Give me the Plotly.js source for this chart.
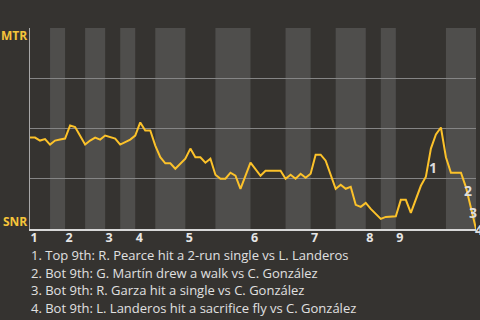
<!DOCTYPE html>
<html>
<head>
<meta charset="utf-8">
<script src="https://cdn.plot.ly/plotly-3.0.1.min.js"></script>
<style>html,body{margin:0;padding:0;background:#353330;}#chart{width:480px;height:320px;}</style>
</head>
<body>
<div id="chart"></div>
<script>
// Event index (plate appearance) along the game and win probability (1 = MTR, 0 = SNR)
const events = [0,1,2,3,4,5,6,7,8,9,11,12,13,14,15,17,18,20,21,22,23,24,25,26,27,28,29,31,32,33,34,35,36,37,38,39,40,41,42,44,46,47,50,51,52,53,54,55,56,57,58,59,61,62,63,64,65,66,67,68,70,71,73,74,75,76,78,79,80,81,82,83,84,86,87,88,89];
const winProb = [0.455,0.455,0.44,0.447,0.42,0.44,0.445,0.45,0.515,0.507,0.42,0.44,0.455,0.445,0.465,0.45,0.42,0.445,0.465,0.53,0.49,0.49,0.415,0.357,0.327,0.327,0.30,0.35,0.40,0.357,0.357,0.33,0.35,0.27,0.25,0.25,0.28,0.265,0.20,0.33,0.265,0.29,0.29,0.25,0.27,0.25,0.275,0.255,0.275,0.37,0.37,0.34,0.20,0.22,0.20,0.21,0.12,0.11,0.13,0.10,0.05,0.06,0.063,0.145,0.145,0.08,0.215,0.26,0.40,0.47,0.505,0.357,0.28,0.28,0.207,0.107,0.0];
// Half-inning start events (top 1st, bot 1st, top 2nd, ...), and last event
const halfInningStarts = [0,4,7,11,15,18,21,25,31,37,44,51,56,61,67,70,73,83];
const lastEvent = 89;
const inningLabels = ['1','2','3','4','5','6','7','8','9'];
const teamTop = 'MTR';
const teamBottom = 'SNR';
// Key events
const keyLabels = ['1','2','3','4'];
const keyX = [80.5,87.5,88.5,89];
const keyY = [0.305,0.19,0.082,0.0];
const notes = [
  '1. Top 9th: R. Pearce hit a 2-run single vs L. Landeros',
  '2. Bot 9th: G. Martín drew a walk vs C. González',
  '3. Bot 9th: R. Garza hit a single vs C. González',
  '4. Bot 9th: L. Landeros hit a sacrifice fly vs C. González'
];

const FONT = '"Open Sans", "Noto Sans", sans-serif';
const shapes = [];
for (let i = 1; i < halfInningStarts.length; i += 2) {
  const end = (i + 1 < halfInningStarts.length) ? halfInningStarts[i + 1] : lastEvent;
  shapes.push({type:'rect', xref:'x', yref:'paper', x0:halfInningStarts[i], x1:end, y0:0, y1:1,
    fillcolor:'#4f4e4c', line:{width:0}, layer:'below'});
}
const tickvals = halfInningStarts.filter((_, i) => i % 2 === 0);

const annotations = [];
annotations.push({xref:'paper', yref:'paper', x:0, y:1, xanchor:'right', yanchor:'middle', xshift:-1, yshift:-7,
  text:teamTop, showarrow:false, font:{family:FONT, size:12, color:'#f5c43a', weight:'bold'}});
annotations.push({xref:'paper', yref:'paper', x:0, y:0, xanchor:'right', yanchor:'middle', xshift:-1, yshift:8,
  text:teamBottom, showarrow:false, font:{family:FONT, size:12, color:'#f5c43a', weight:'bold'}});
keyLabels.forEach((t, i) => {
  annotations.push({xref:'x', yref:'y', x:keyX[i], y:keyY[i], xanchor:'center', yanchor:'middle',
    xshift: i === 3 ? 3 : 0, text:t, showarrow:false, font:{family:FONT, size:14, color:'#dddddd', weight:'bold'}});
});
notes.forEach((t, i) => {
  annotations.push({xref:'paper', yref:'paper', x:0, y:0, xanchor:'left', yanchor:'middle',
    xshift:0, yshift:-(26 + i * 17.5), borderpad:0, text:t, showarrow:false, font:{family:FONT, size:13, color:'#e0e0e0'}});
});

const trace = {x:events, y:winProb, type:'scatter', mode:'lines',
  line:{color:'#fcc22a', width:2}, hoverinfo:'skip', cliponaxis:false};

const layout = {
  width:480, height:320,
  margin:{l:30, r:4, t:28, b:91},
  paper_bgcolor:'#353330', plot_bgcolor:'#353330',
  showlegend:false,
  xaxis:{range:[0,lastEvent], showgrid:false, zeroline:false, showline:true, linecolor:'#d8d8d8', linewidth:2,
    tickvals:tickvals, ticktext:inningLabels, ticks:'', ticklabelshift:4, ticklabelstandoff:-4,
    tickfont:{family:FONT, size:12.5, color:'#e6e6e6', weight:'bold'}, fixedrange:true},
  yaxis:{range:[0,1], tickvals:[0.25,0.5,0.75,1], showticklabels:false, ticks:'', showgrid:true,
    gridcolor:'#858585', gridwidth:1, zeroline:false, showline:true, linecolor:'#a8a8a8', linewidth:1, fixedrange:true},
  shapes:shapes,
  annotations:annotations
};
Plotly.newPlot('chart', [trace], layout, {staticPlot:true, displayModeBar:false});
</script>
</body>
</html>
